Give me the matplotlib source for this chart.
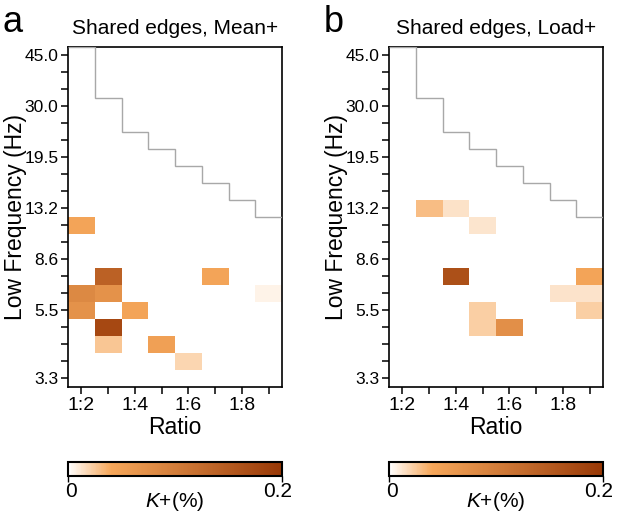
import numpy as np
import matplotlib
matplotlib.use("Agg")
import matplotlib.pyplot as plt
from matplotlib.colors import LinearSegmentedColormap

plt.rcParams['font.family'] = ['Liberation Sans', 'DejaVu Sans']
plt.rcParams['mathtext.fontset'] = 'custom'
plt.rcParams['mathtext.it'] = 'Liberation Sans:italic'
plt.rcParams['mathtext.rm'] = 'Liberation Sans'

# ratio columns (1:2 .. 1:9) and frequency rows (bottom = 0)
ratios = [2, 3, 4, 5, 6, 7, 8, 9]
ratio_labels = ['1:2', '1:4', '1:6', '1:8']
ratio_label_vals = [2, 4, 6, 8]
n_rows = 20
freq_labels = ['3.3', '5.5', '8.6', '13.2', '19.5', '30.0', '45.0']
freq_label_rows = [0, 4, 7, 10, 13, 16, 19]

# highest valid frequency row per ratio (grey boundary)
max_row = [19, 16, 14, 13, 12, 11, 10, 9]

# panel a: Mean+
rows_a = [9, 6, 6, 5, 5, 5, 4, 4, 3, 2, 2, 1]
cols_a = [2, 3, 7, 2, 3, 9, 2, 4, 3, 3, 5, 6]
vals_a = [0.045, 0.14, 0.045, 0.084, 0.07, 0.006, 0.07, 0.045, 0.176, 0.026, 0.05, 0.019]

# panel b: Load+
rows_b = [10, 10, 9, 6, 6, 5, 5, 4, 4, 3, 3]
cols_b = [3, 4, 5, 4, 9, 8, 9, 5, 9, 5, 6]
vals_b = [0.03, 0.014, 0.012, 0.165, 0.045, 0.013, 0.013, 0.022, 0.022, 0.022, 0.075]

vmin, vmax = 0, 0.2
cmap = LinearSegmentedColormap.from_list(
    'wob', [(0.0, '#ffffff'), (0.2, '#f6a75a'), (1.0, '#983806')])


def build_grid(rows, cols, vals):
    grid = np.full((n_rows, len(ratios)), np.nan)
    for r, c, v in zip(rows, cols, vals):
        grid[r, ratios.index(c)] = v
    return np.ma.masked_invalid(grid)


fig = plt.figure(figsize=(6.17, 5.14), dpi=100)

panels = [
    ('a', 'Shared edges, Mean+', rows_a, cols_a, vals_a, 68),
    ('b', 'Shared edges, Load+', rows_b, cols_b, vals_b, 389),
]

W, H = 617, 514
for letter, title, rows, cols, vals, left_px in panels:
    ax = fig.add_axes([left_px / W, (H - 386.7) / H, 214 / W, 340 / H])
    grid = build_grid(rows, cols, vals)
    x_edges = np.arange(len(ratios) + 1) + ratios[0] - 0.5
    y_edges = np.arange(n_rows + 1) - 0.5
    mesh = ax.pcolormesh(x_edges, y_edges, grid, cmap=cmap, vmin=vmin, vmax=vmax)

    ax.stairs(np.array(max_row) + 0.5, x_edges, baseline=None,
              color='#a8a8a8', lw=1.0, zorder=3)

    ax.set_xlim(x_edges[0], x_edges[-1])
    ax.set_ylim(y_edges[0], y_edges[-1])

    ax.set_xticks(ratio_label_vals)
    ax.set_xticklabels(ratio_labels, fontsize=14)
    ax.set_xticks(ratios, minor=True)
    ax.set_yticks(freq_label_rows)
    ax.set_yticklabels(freq_labels, fontsize=12.5)
    ax.set_yticks(range(n_rows), minor=True)
    ax.tick_params(which='both', direction='out', length=4.8, width=1.1, color='black')
    ax.tick_params(axis='x', which='both', pad=2.5)
    ax.tick_params(axis='y', which='both', pad=2)
    for sp in ax.spines.values():
        sp.set_linewidth(1.2)

    ax.set_xlabel('Ratio', fontsize=16.5)
    ax.xaxis.set_label_coords(0.5, -0.085)
    ax.set_ylabel('Low Frequency (Hz)', fontsize=16.5)
    ax.yaxis.set_label_coords(-0.19, 0.5)
    ax.set_title(title, fontsize=15, pad=9.5)

    fig.text((left_px - 65) / W, 1 - 32 / H, letter, fontsize=26, va='baseline')

    cax = fig.add_axes([left_px / W, (H - 475.7) / H, 214 / W, 14 / H])
    cb = fig.colorbar(mesh, cax=cax, orientation='horizontal')
    cb.set_ticks([vmin, vmax])
    cb.set_ticklabels(['', ''])
    cb.outline.set_linewidth(1.5)
    cax.tick_params(direction='out', length=4, width=1.0)
    cax.text(0.014, -0.45, '0', transform=cax.transAxes, ha='center', va='top', fontsize=15)
    cax.text(0.979, -0.45, '0.2', transform=cax.transAxes, ha='center', va='top', fontsize=15)
    cax.text(0.5, -1.05, '$K$+(%)', transform=cax.transAxes, ha='center', va='top', fontsize=15)

fig.savefig('out.png', dpi=100)
